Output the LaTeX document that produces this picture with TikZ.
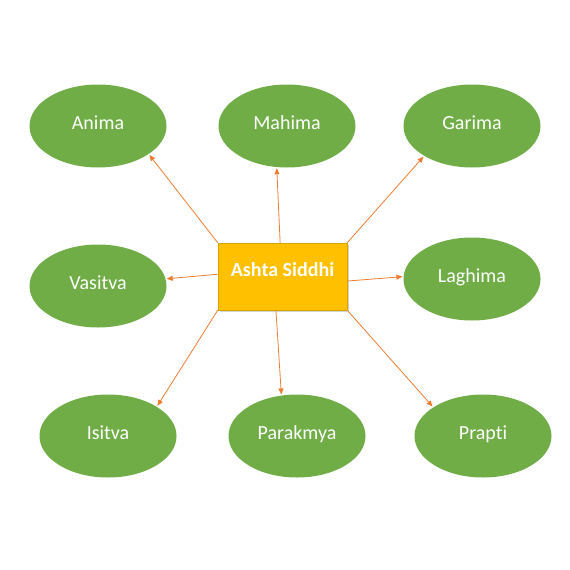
\documentclass[tikz,border=0pt]{standalone}
\usepackage{fontspec}
\setmainfont[Ligatures=NoCommon]{Carlito}
\usetikzlibrary{shapes.geometric,arrows.meta,shadows}
\definecolor{leafgreen}{HTML}{70AD47}
\definecolor{boxgold}{HTML}{FFC000}
\definecolor{boxedge}{HTML}{D9A400}
\definecolor{arroworange}{HTML}{ED7D31}
\tikzset{
  siddhi/.style={ellipse, fill=leafgreen, minimum width=137pt, minimum height=83pt, inner sep=0pt, text=white, text height=13pt, text depth=7pt, font=\fontsize{20}{24}\selectfont},
  centerbox/.style={rectangle, fill=boxgold, draw=boxedge, line width=0.6pt, minimum width=129pt, minimum height=67pt, inner sep=0pt, text=white, text height=13pt, text depth=13pt, font=\fontsize{20}{24}\selectfont\bfseries, drop shadow={shadow xshift=2pt, shadow yshift=-2pt, opacity=0.35}},
  link/.style={draw=arroworange, line width=0.8pt, -{Triangle[length=6pt,width=5pt]}, shorten >=1pt}
}
\begin{document}
\begin{tikzpicture}[x=1pt,y=-1pt]
\useasboundingbox (0,0) rectangle (570,570);
\node[centerbox] (box) at (282.5,276.5) {Ashta Siddhi};
\node[siddhi] (anima) at (98,126) {Anima};
\node[siddhi] (mahima) at (287,126) {Mahima};
\node[siddhi] (garima) at (472,126) {Garima};
\node[siddhi] (vasitva) at (98,286) {Vasitva};
\node[siddhi] (laghima) at (472,279) {Laghima};
\node[siddhi] (isitva) at (108,436) {Isitva};
\node[siddhi] (parakmya) at (297,436) {Parakmya};
\node[siddhi] (prapti) at (483,436) {Prapti};
\draw[link] (box.north west) -- (anima.-29);
\draw[link] (box.94) -- (mahima.-104);
\draw[link] (box.north east) -- (garima.-148);
\draw[link] (box.178.6) -- (vasitva.6);
\draw[link] (box.-4) -- (laghima.178);
\draw[link] (box.south west) -- (isitva.31);
\draw[link] (box.-101) -- (parakmya.111);
\draw[link] (box.south east) -- (prapti.150);
\end{tikzpicture}
\end{document}
